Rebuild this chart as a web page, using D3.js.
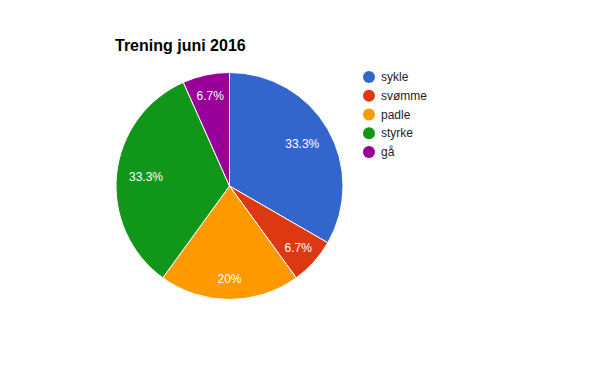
<!DOCTYPE html>
<html><head><meta charset="utf-8">
<script src="https://cdn.jsdelivr.net/npm/d3@7"></script>
<style>body{margin:0;background:#fff;} svg{display:block;}</style>
</head><body>
<svg id="c" width="600" height="371"></svg>
<script>
const categories = ["sykle", "svømme", "padle", "styrke", "gå"];
const values = [5, 1, 3, 5, 1];
const colors = ["#3366cc", "#dc3912", "#ff9900", "#109618", "#990099"];
const title = "Trening juni 2016";

const svg = d3.select("#c");
const cx = 229.5, cy = 186, r = 113.5;
const total = d3.sum(values);
const pie = d3.pie().sort(null).value(d => d)(values);
const arc = d3.arc().innerRadius(0).outerRadius(r);
const labelPos = d => {
  const f = d.value / total > 0.3 ? 0.74 : 0.815;
  return d3.arc().innerRadius(r * f).outerRadius(r * f).centroid(d);
};
const g = svg.append("g").attr("transform", `translate(${cx},${cy})`);
g.selectAll("path").data(pie).join("path")
  .attr("d", arc).attr("fill", (d, i) => colors[i])
  .attr("stroke", "#fff").attr("stroke-width", 1);
const fmt = v => { const p = v / total * 100; return (Math.round(p * 10) / 10) + "%"; };
g.selectAll("text").data(pie).join("text")
  .attr("transform", d => `translate(${labelPos(d)})`)
  .attr("text-anchor", "middle").attr("dy", "0.35em")
  .attr("font-family", "Arial, 'Liberation Sans', sans-serif").attr("font-size", 12)
  .attr("fill", "#fff").text(d => fmt(d.value));

svg.append("text").attr("x", 115).attr("y", 51)
  .attr("font-family", "Arial, 'Liberation Sans', sans-serif").attr("font-size", 16)
  .attr("font-weight", "bold").attr("fill", "#000").text(title);

const lg = svg.append("g");
const ly = d3.scalePoint().domain(categories).range([77, 152]);
categories.forEach((c, i) => {
  lg.append("circle").attr("cx", 369).attr("cy", ly(c)).attr("r", 6).attr("fill", colors[i]);
  lg.append("text").attr("x", 381).attr("y", ly(c)).attr("dy", "0.35em")
    .attr("font-family", "Arial, 'Liberation Sans', sans-serif").attr("font-size", 12)
    .attr("fill", "#222").text(c);
});
</script>
</body></html>
